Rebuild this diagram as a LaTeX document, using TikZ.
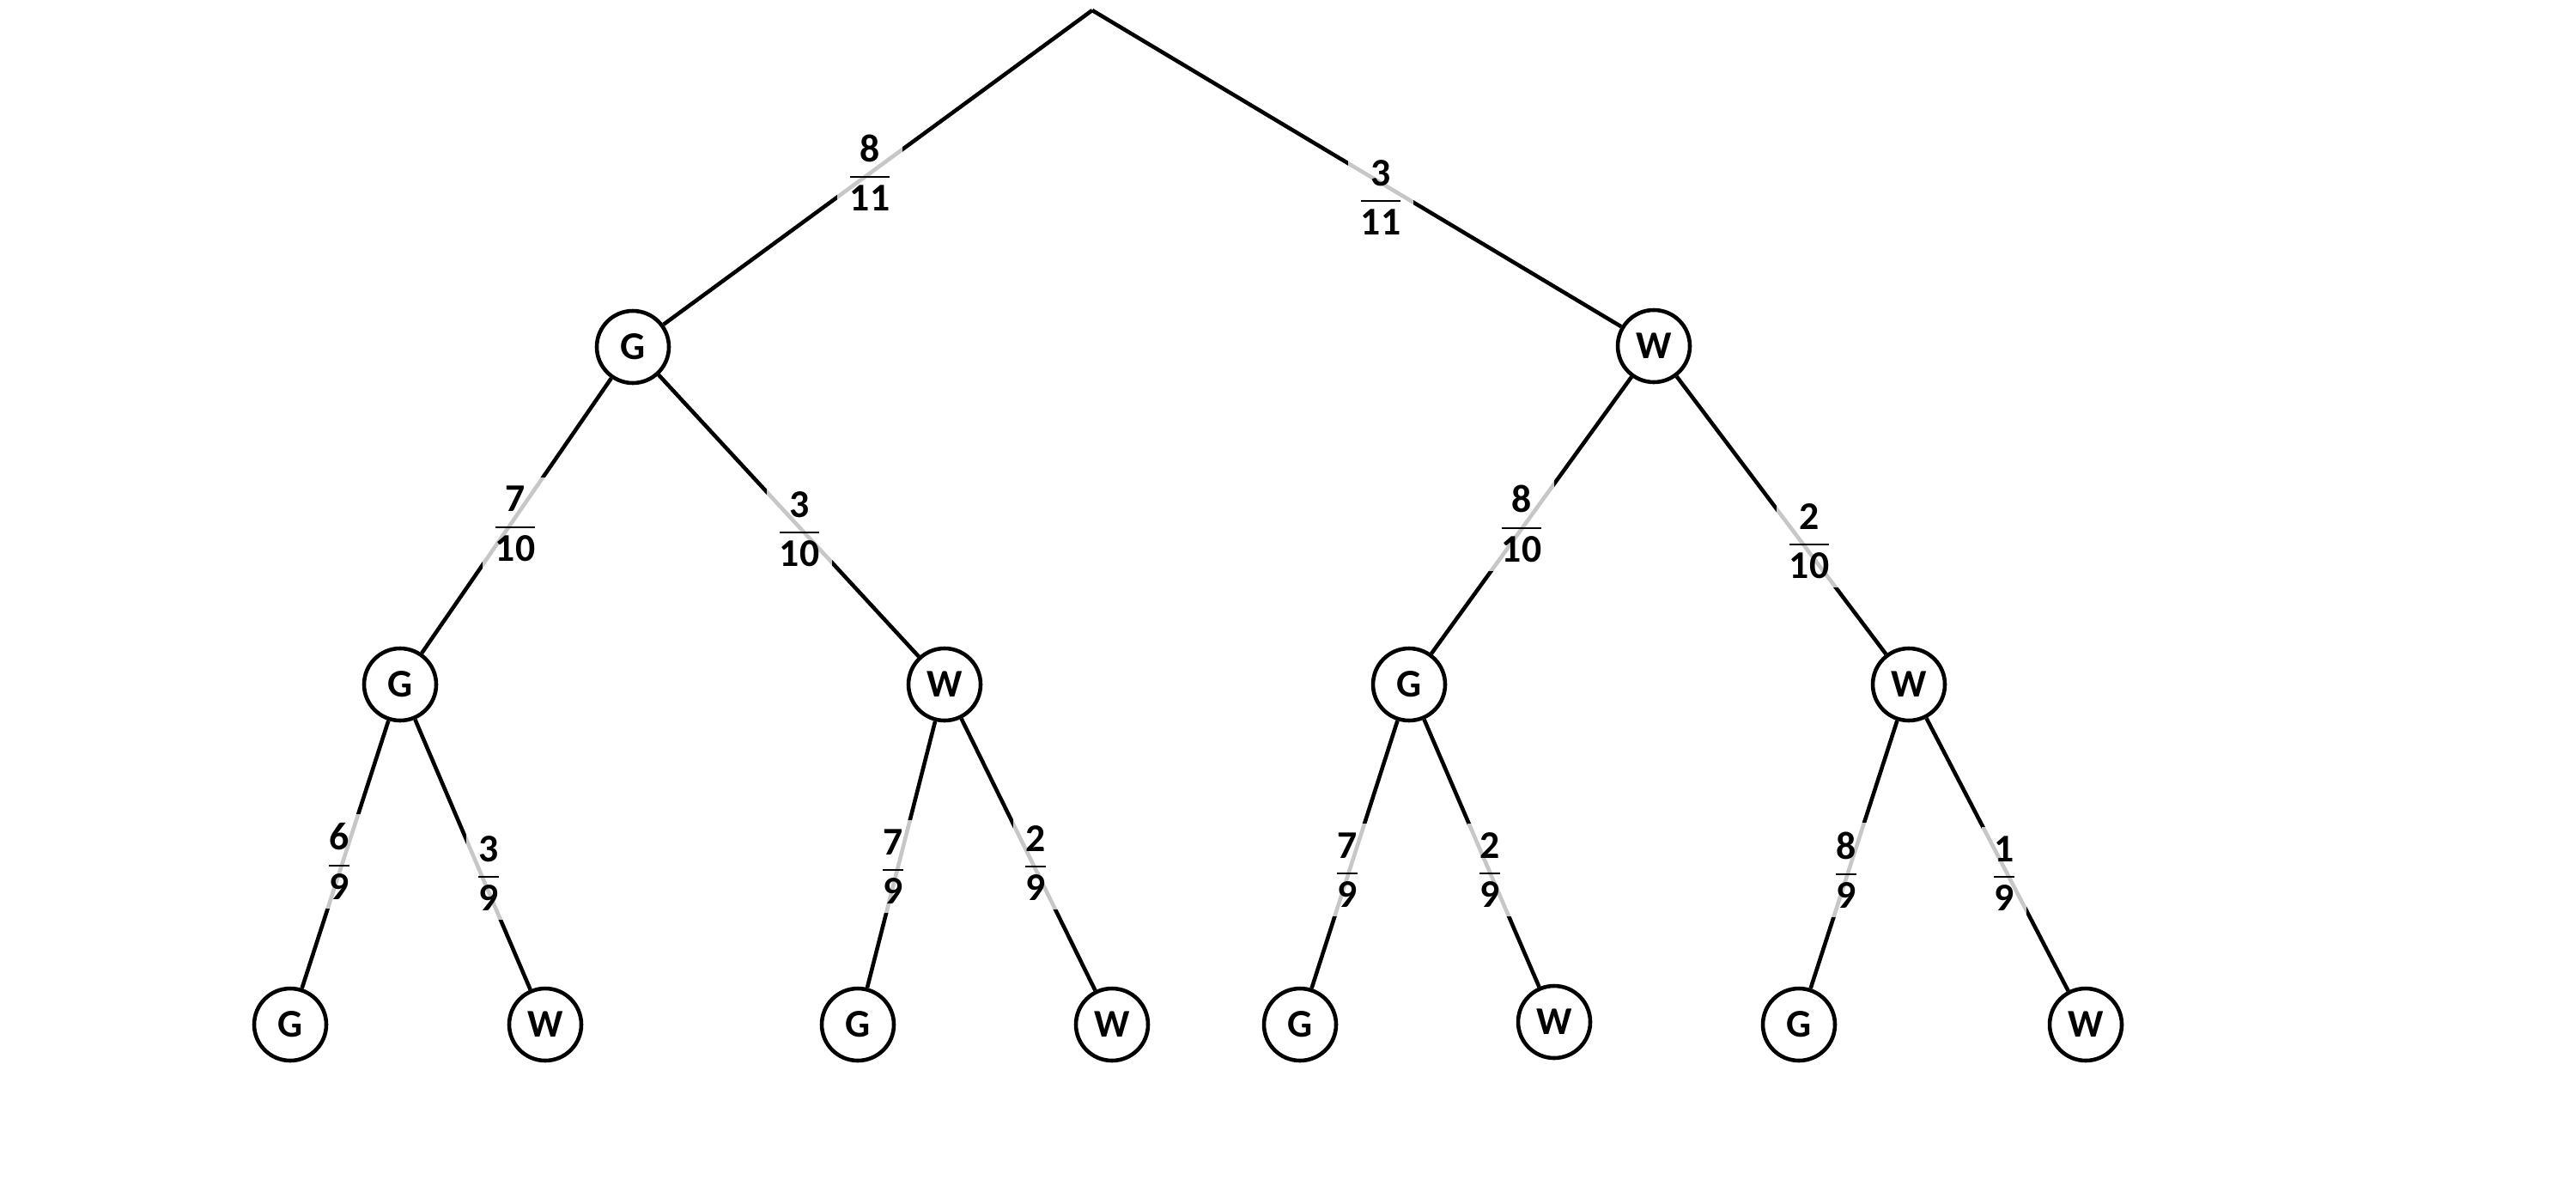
\documentclass[tikz,border=0pt]{standalone}
\usepackage{amsmath}
\usepackage{fontspec}
\setmainfont{Carlito}
\usepackage{tikz}
\newcommand{\branchfrac}[2]{$\dfrac{\text{#1}}{\text{#2}}$}
\tikzset{
  ball/.style={circle, draw, line width=1.3pt, minimum size=0.84cm,
               inner sep=0pt, font=\bfseries\fontsize{13}{15}\selectfont},
  prob/.style={fill=white, fill opacity=0.78, text opacity=1, inner sep=3pt,
               yshift=0.6mm, font=\bfseries\fontsize{13}{15}\selectfont},
  branch/.style={line width=1.3pt}
}

\begin{document}
\begin{tikzpicture}
    \useasboundingbox (0,0) rectangle (30,-13.8);
    % first draw
    \coordinate (root) at (12.72,-0.12);
    \node[ball] (g1) at (7.37,-4.04) {G};
    \node[ball] (w1) at (19.26,-4.03) {W};
    % second draw
    \node[ball] (gg) at (4.66,-7.97) {G};
    \node[ball] (gw) at (11.00,-7.97) {W};
    \node[ball] (wg) at (16.41,-7.97) {G};
    \node[ball] (ww) at (22.23,-7.97) {W};
    % third draw
    \node[ball] (ggg) at (3.38,-11.93) {G};
    \node[ball] (ggw) at (6.35,-11.93) {W};
    \node[ball] (gwg) at (9.99,-11.93) {G};
    \node[ball] (gww) at (12.95,-11.93) {W};
    \node[ball] (wgg) at (15.14,-11.93) {G};
    \node[ball] (wgw) at (18.10,-11.90) {W};
    \node[ball] (wwg) at (20.95,-11.93) {G};
    \node[ball] (www) at (24.29,-11.93) {W};
    % branches
    \draw[branch] (root) -- (g1);
    \draw[branch] (root) -- (w1);
    \draw[branch] (g1) -- (gg);
    \draw[branch] (g1) -- (gw);
    \draw[branch] (w1) -- (wg);
    \draw[branch] (w1) -- (ww);
    \draw[branch] (gg) -- (ggg);
    \draw[branch] (gg) -- (ggw);
    \draw[branch] (gw) -- (gwg);
    \draw[branch] (gw) -- (gww);
    \draw[branch] (wg) -- (wgg);
    \draw[branch] (wg) -- (wgw);
    \draw[branch] (ww) -- (wwg);
    \draw[branch] (ww) -- (www);
    % probabilities
    \node[prob] (p1) at (10.13,-2.07) {\branchfrac{8}{11}};
    \node[prob] (p2) at (16.08,-2.36) {\branchfrac{3}{11}};
    \node[prob] (p11) at (6.00,-6.16) {\branchfrac{7}{10}};
    \node[prob] (p12) at (9.31,-6.22) {\branchfrac{3}{10}};
    \node[prob] (p21) at (17.72,-6.16) {\branchfrac{8}{10}};
    \node[prob] (p22) at (21.07,-6.36) {\branchfrac{2}{10}};
    \node[prob] (p111) at (3.95,-10.09) {\branchfrac{6}{9}};
    \node[prob] (p112) at (5.69,-10.23) {\branchfrac{3}{9}};
    \node[prob] (p121) at (10.40,-10.15) {\branchfrac{7}{9}};
    \node[prob] (p122) at (12.06,-10.11) {\branchfrac{2}{9}};
    \node[prob] (p211) at (15.69,-10.19) {\branchfrac{7}{9}};
    \node[prob] (p212) at (17.35,-10.19) {\branchfrac{2}{9}};
    \node[prob] (p221) at (21.50,-10.19) {\branchfrac{8}{9}};
    \node[prob] (p222) at (23.34,-10.23) {\branchfrac{1}{9}};
\end{tikzpicture}
\end{document}
